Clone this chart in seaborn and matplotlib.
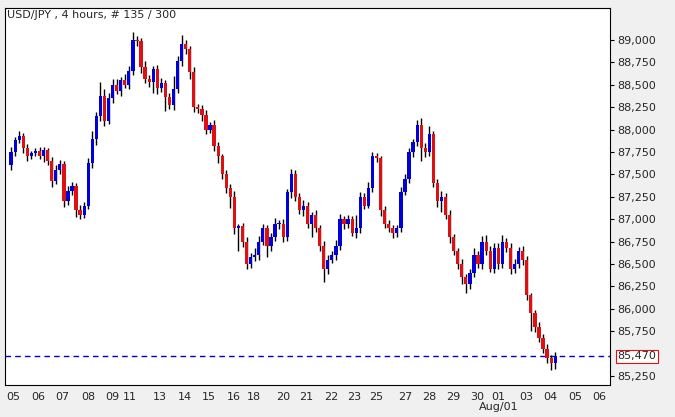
import numpy as np
import matplotlib
matplotlib.use("Agg")
import matplotlib.pyplot as plt
import seaborn as sns

# 4h closes
closes = [87750, 87880, 87930, 87800, 87700, 87740, 87760, 87700, 87770, 87650,
          87430, 87550, 87620, 87200, 87320, 87370, 87100, 87050, 87150, 87630,
          87900, 88150, 88380, 88100, 88350, 88500, 88430, 88550, 88500, 88650,
          89000, 88990, 88700, 88560, 88530, 88680, 88460, 88520, 88360, 88280,
          88450, 88760, 88960, 88900, 88640, 88250, 88230, 88160, 88000, 88050,
          87820, 87700, 87500, 87350, 87250, 86900, 86920, 86750, 86500, 86580,
          86600, 86750, 86900, 86700, 86800, 86950, 86950, 86800, 87300, 87500,
          87250, 87100, 87150, 86950, 87050, 86900, 86700, 86450, 86550, 86600,
          86700, 87000, 86950, 87000, 86850, 86900, 87250, 87150, 87350, 87700,
          87680, 87100, 86950, 86900, 86850, 86900, 87300, 87450, 87750, 87860,
          88050, 87800, 87750, 87950, 87400, 87200, 87250, 87050, 86800, 86650,
          86500, 86350, 86280, 86400, 86600, 86500, 86750, 86650, 86450, 86680,
          86500, 86750, 86680, 86450, 86500, 86650, 86550, 86150, 85950, 85800,
          85680, 85550, 85450, 85400, 85470]
first_open = 87600
wick_up = [60, 40, 50, 30, 40, 20, 30, 50, 40, 30, 40, 60, 40, 30, 50, 40, 30, 60, 40, 50,
           80, 50, 150, 70, 60, 70, 60, 40, 70, 60, 90, 40, 30, 60, 50, 30, 40, 60, 30, 50,
           150, 60, 100, 40, 30, 60, 40, 50, 60, 40, 60, 40, 30, 50, 40, 60, 30, 40, 50, 40,
           80, 60, 50, 40, 50, 60, 40, 50, 40, 60, 50, 40, 60, 40, 30, 50, 40, 60, 50, 40,
           70, 60, 40, 50, 40, 150, 50, 40, 60, 50, 40, 30, 50, 40, 30, 40, 60, 50, 40, 30,
           60, 80, 50, 90, 40, 50, 60, 40, 50, 40, 30, 60, 40, 50, 80, 40, 60, 70, 50, 60,
           50, 70, 40, 50, 60, 40, 50, 40, 30, 40, 50, 40, 60, 40, 50]
wick_dn = [50, 40, 30, 60, 50, 30, 40, 30, 60, 50, 70, 40, 50, 60, 40, 50, 70, 50, 40, 40,
           60, 70, 50, 60, 40, 50, 30, 60, 40, 50, 40, 60, 70, 40, 50, 120, 60, 40, 150, 50,
           60, 40, 50, 60, 70, 50, 40, 60, 50, 40, 60, 70, 50, 60, 120, 60, 250, 60, 50, 40,
           50, 60, 40, 120, 50, 40, 60, 50, 40, 60, 50, 40, 60, 50, 150, 40, 50, 150, 60, 40,
           50, 40, 60, 50, 40, 60, 50, 40, 30, 50, 40, 60, 50, 40, 60, 50, 40, 30, 50, 60,
           40, 150, 60, 50, 40, 60, 120, 50, 60, 50, 60, 70, 100, 60, 50, 40, 60, 50, 40, 50,
           60, 40, 50, 60, 50, 40, 60, 50, 200, 60, 50, 40, 60, 80, 70]
day_labels = ["05", "06", "07", "08", "09", "11", "13", "14", "15", "16", "18", "20", "21",
              "22", "23", "25", "27", "28", "29", "30", "01", "03", "04", "05", "06"]
day_pos = [0.5, 6.6, 12.7, 19, 24.9, 29.3, 36.6, 42.9, 48.8, 54.9, 59.8, 67.1, 72.7,
           78.8, 84.6, 89.8, 97.1, 102.9, 108.8, 114.9, 120, 126.8, 132.9, 139, 144.9]
yticks = [85250, 85750, 86000, 86250, 86500, 86750, 87000, 87250, 87500,
          87750, 88000, 88250, 88500, 88750, 89000]
last_price = 85470

sns.set_style("white")
fig = plt.figure(figsize=(6.75, 4.17), dpi=100, facecolor="#f0f0f0")
ax = fig.add_axes([5 / 675, 32 / 417, 605 / 675, 377 / 417])
ax.set_facecolor("white")

opens = [first_open] + closes[:-1]
for i, (o, c) in enumerate(zip(opens, closes)):
    col = "#0000dd" if c >= o else "#e01010"
    hi = max(o, c) + wick_up[i]
    lo = min(o, c) - wick_dn[i]
    ax.vlines(i, lo, hi, color="black", lw=1, zorder=2)
    h = max(abs(c - o), 12)
    ax.bar(i, h, bottom=min(o, c), width=0.8, color=col, linewidth=0, zorder=3)

ax.axhline(last_price, color="#0000cc", lw=1, ls=(0, (4, 3)), zorder=1)
ax.set_xlim(-1.5, 147.5)
ax.set_ylim(85150, 89357)
ax.yaxis.tick_right()
ax.set_yticks(yticks)
ax.set_yticklabels([f"{v:,}" for v in yticks])
ax.set_xticks(day_pos)
ax.set_xticklabels(day_labels)
ax.tick_params(labelsize=8, length=3, color="black", direction="out", pad=2)
for s in ax.spines.values():
    s.set_color("black")
    s.set_linewidth(0.8)
ax.text(120, -0.045, "Aug/01", transform=ax.get_xaxis_transform(), ha="center",
        va="top", fontsize=8)
ax.text(0.003, 0.995, "USD/JPY , 4 hours, # 135 / 300", transform=ax.transAxes,
        ha="left", va="top", fontsize=8)
ax.text(1.012, last_price, f"{last_price:,}", transform=ax.get_yaxis_transform(),
        ha="left", va="center", fontsize=8,
        bbox=dict(boxstyle="square,pad=0.15", fc="white", ec="#e01010", lw=0.8))

fig.savefig("out.png", dpi=100, facecolor=fig.get_facecolor())
